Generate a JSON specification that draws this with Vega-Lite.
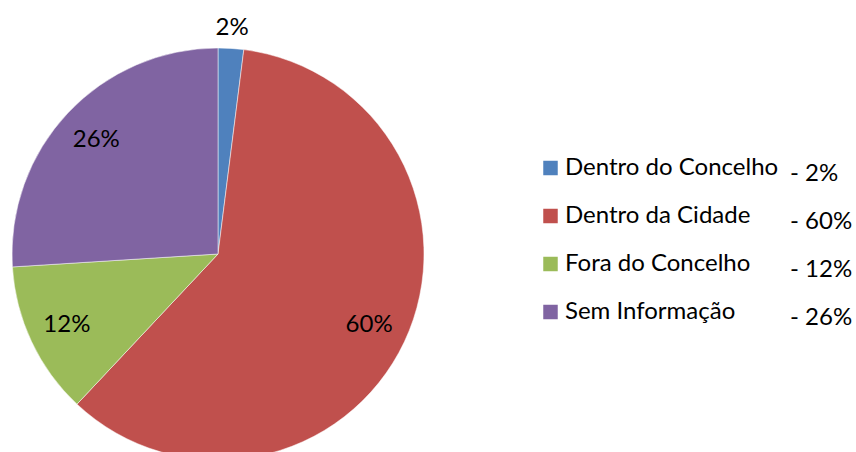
{
  "$schema": "https://vega.github.io/schema/vega-lite/v6.json",
  "padding": {"top": 16, "left": 0, "right": 0, "bottom": 0},
  "spacing": 0,
  "config": {"view": {"stroke": null}, "font": "Lato", "text": {"font": "Lato"}},
  "data": {"values": [
    {"k": 1, "cat": "Dentro do Concelho", "pct": 2, "label": "2%"},
    {"k": 2, "cat": "Dentro da Cidade", "pct": 60, "label": "60%"},
    {"k": 3, "cat": "Fora do Concelho", "pct": 12, "label": "12%"},
    {"k": 4, "cat": "Sem Informação", "pct": 26, "label": "26%"}
  ]},
  "hconcat": [
    {
      "width": 436,
      "height": 398,
      "encoding": {
        "theta": {"field": "pct", "type": "quantitative", "stack": true},
        "order": {"field": "k", "type": "quantitative"},
        "color": {"field": "cat", "type": "nominal", "sort": null, "legend": null,
          "scale": {"domain": ["Dentro do Concelho", "Dentro da Cidade", "Fora do Concelho", "Sem Informação"],
                    "range": ["#4F81BD", "#C0504D", "#9BBB59", "#8064A2"]}}
      },
      "layer": [
        {"mark": {"type": "arc", "outerRadius": 206, "stroke": "#ffffff", "strokeWidth": 0.5}},
        {"mark": {"type": "text", "radius": 167, "fontSize": 24, "color": "#000000"},
         "encoding": {"color": {"value": "#000000"},
           "text": {"condition": {"test": "datum.pct < 5", "value": ""}, "field": "label"}}},
        {"mark": {"type": "text", "radius": 226, "fontSize": 24, "color": "#000000"},
         "encoding": {"color": {"value": "#000000"},
           "text": {"condition": {"test": "datum.pct >= 5", "value": ""}, "field": "label"}}}
      ]
    },
    {
      "width": 420,
      "height": 398,
      "transform": [{"calculate": "'- ' + datum.label", "as": "pctText"}],
      "encoding": {
        "y": {"field": "cat", "type": "nominal", "sort": null, "axis": null,
              "scale": {"type": "point", "padding": 0, "range": [113, 257]}}
      },
      "layer": [
        {"mark": {"type": "square", "x": 114.5, "size": 210, "opacity": 1, "filled": true},
         "encoding": {"color": {"field": "cat", "type": "nominal", "sort": null, "legend": null,
           "scale": {"domain": ["Dentro do Concelho", "Dentro da Cidade", "Fora do Concelho", "Sem Informação"],
                     "range": ["#4F81BD", "#C0504D", "#9BBB59", "#8064A2"]}}}},
        {"mark": {"type": "text", "x": 129, "align": "left", "baseline": "middle", "fontSize": 24, "color": "#000000"},
         "encoding": {"text": {"field": "cat"}}},
        {"mark": {"type": "text", "x": 354, "dy": 6, "align": "left", "baseline": "middle", "fontSize": 24, "color": "#000000"},
         "encoding": {"text": {"field": "pctText"}}}
      ]
    }
  ]
}
